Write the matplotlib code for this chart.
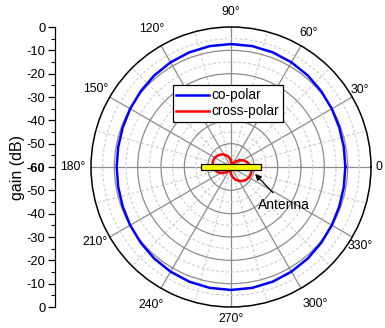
import matplotlib.pyplot as plt
import numpy as np
from matplotlib.patches import Rectangle

plt.rcParams['font.family'] = ['Liberation Sans', 'DejaVu Sans']

# angles in degrees, gains in dB
angles_deg = [0, 10, 20, 30, 40, 50, 60, 70, 80, 90, 100, 110, 120, 130, 140, 150, 160, 170,
              180, 190, 200, 210, 220, 230, 240, 250, 260, 270, 280, 290, 300, 310, 320, 330, 340, 350, 360]
co_polar = [-11.0, -10.9, -10.6, -10.1, -9.5, -8.8, -8.2, -7.7, -7.4, -7.3, -7.4, -7.7, -8.2, -8.8,
            -9.5, -10.1, -10.6, -10.9, -11.0, -10.9, -10.6, -10.1, -9.5, -8.8, -8.2, -7.7, -7.4,
            -7.3, -7.4, -7.7, -8.2, -8.8, -9.5, -10.1, -10.6, -10.9, -11.0]
cross_polar = [-51.5, -52.2, -53.1, -54.2, -55.5, -56.9, -58.4, -60.0, -58.6, -57.2, -56.0, -54.8,
               -53.8, -53.0, -52.4, -52.0, -51.9, -52.0, -52.4, -53.0, -53.8, -54.8, -56.0, -57.2,
               -58.6, -60.0, -58.4, -56.9, -55.5, -54.2, -53.1, -52.2, -51.5, -51.1, -51.0, -51.1, -51.5]

theta_ticks = list(range(0, 360, 30))
theta_labels = ['0', '30°', '60°', '90°', '120°', '150°', '180°', '210°', '240°', '270°', '300°', '330°']
gain_ticks = list(range(0, 121, 10))
gain_labels = [str(abs(v - 60) - 60) for v in gain_ticks]

W, H = 385, 328
fig = plt.figure(figsize=(W / 100, H / 100), dpi=100)

# polar axes placed in pixels: center (231,167), radius 140
left, top, size = 91, 27, 280
rect = [left / W, (H - top - size) / H, size / W, size / H]
ax = fig.add_axes(rect, projection='polar')

theta = np.deg2rad(angles_deg)
ax.plot(theta, co_polar, color='#0000ff', lw=1.8, label='co-polar', zorder=5)
ax.plot(theta, cross_polar, color='#ff0000', lw=1.8, label='cross-polar', zorder=5)
ax.set_rlim(-60, 0)

ax.set_xticks(np.deg2rad(theta_ticks))
ax.set_xticklabels([])
ax.set_xticks(np.deg2rad(np.arange(15, 360, 30)), minor=True)
ax.set_yticks([-50, -40, -30, -20, -10])
ax.set_yticks([-55, -45, -35, -25, -15, -5], minor=True)
ax.set_yticklabels([])
ax.grid(which='major', color='#8c8c8c', lw=0.9, ls='-')
ax.grid(which='minor', color='#cccccc', lw=0.8, ls=(0, (2.5, 2)))
ax.tick_params(axis='x', which='major', direction='in', length=7, width=1.2, color='black')
ax.tick_params(axis='x', which='minor', direction='in', length=4, width=0.8, color='#555555')
ax.spines['polar'].set_color('black')
ax.spines['polar'].set_linewidth(1.1)

# angle labels, centred at a distance (px from the pole) that varies a bit per label
label_dist_px = [148, 150, 155, 155, 159, 156, 158, 155, 159, 152, 161, 151]
label_ang_shift = [0, 1, 0, 0, 0, 0, 0, -1, 0, 0, 1.5, -1.5]
for a, lab, d, da in zip(theta_ticks, theta_labels, label_dist_px, label_ang_shift):
    ax.text(np.deg2rad(a + da), d / 140 * 60 - 60, lab, ha='center', va='center',
            fontsize=8.8, clip_on=False)

# antenna sketch
ax.add_patch(Rectangle((0.393, 0.4895), 0.214, 0.021, transform=ax.transAxes,
                       facecolor='#ffff00', edgecolor='black', lw=0.9, zorder=6, clip_on=False))
ax.annotate('Antenna', xy=(0.586, 0.475), xycoords='axes fraction',
            xytext=(0.69, 0.366), textcoords='axes fraction', ha='center', va='center',
            fontsize=10, arrowprops=dict(arrowstyle='-|>', color='black', lw=0.9,
                                         mutation_scale=9, shrinkA=2, shrinkB=0), zorder=7)

leg = ax.legend(loc='upper left', bbox_to_anchor=(0.293, 0.793), bbox_transform=ax.transAxes,
                borderaxespad=0, fancybox=False, framealpha=1, edgecolor='black',
                fontsize=9.8, handlelength=2.4, handletextpad=0.2, borderpad=0.25,
                labelspacing=0.15)
leg.get_frame().set_linewidth(0.9)
leg.set_zorder(8)

# left gain axis
ax2 = fig.add_axes([55 / W, rect[1], 0.0001, rect[3]])
ax2.set_ylim(0, 120)
ax2.set_yticks(gain_ticks)
ax2.set_yticklabels(gain_labels, fontsize=9.3)
ax2.get_yticklabels()[6].set_fontweight('bold')
ax2.set_yticks(range(5, 120, 10), minor=True)
ax2.set_xticks([])
for s in ['top', 'right', 'bottom']:
    ax2.spines[s].set_visible(False)
ax2.spines['left'].set_linewidth(0.9)
ax2.tick_params(axis='y', which='major', length=5, width=0.9, pad=2)
ax2.tick_params(axis='y', which='minor', length=3, width=0.8)
ax2.set_ylabel('gain (dB)', fontsize=11.5, labelpad=1)
ax2.set_facecolor('none')

fig.savefig('out.png', dpi=100)
